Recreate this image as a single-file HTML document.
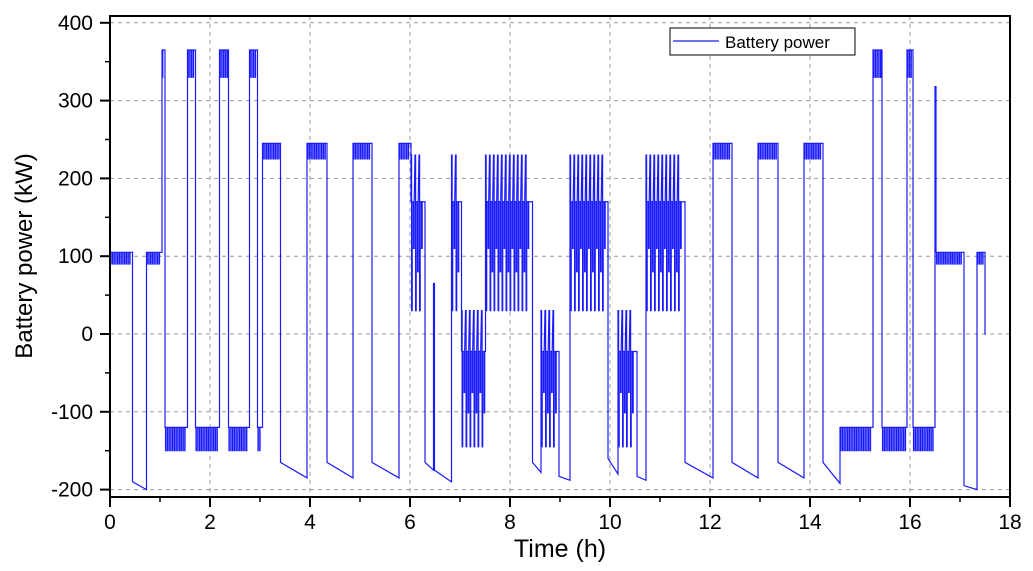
<!DOCTYPE html>
<html><head><meta charset="utf-8"><style>
body{margin:0;background:#fff;}
svg{display:block;font-family:"Liberation Sans",Arial,sans-serif;}
</style></head><body>
<svg id="chart" width="1033" height="571" viewBox="0 0 1033 571">
<g id="grid"></g>
<g id="axes"></g>
<path id="series" fill="none" stroke="#1a1aff" stroke-width="1.2" stroke-linejoin="miter"></path>
<rect x="110" y="16" width="900" height="481" fill="none" stroke="#000" stroke-width="2"/>
<text x="32" y="256" font-size="24" text-anchor="middle" transform="rotate(-90 32 256)">Battery power (kW)</text>
<text x="560" y="557" font-size="25" text-anchor="middle">Time (h)</text>
<g>
<rect x="670" y="28" width="185" height="27" fill="#fff" stroke="#000" stroke-width="1"/>
<line x1="673" y1="41" x2="719" y2="41" stroke="#1a1aff" stroke-width="1.2"/>
<text x="725" y="48" font-size="17">Battery power</text>
</g>
</svg>
<script>
const xTicks=[0,2,4,6,8,10,12,14,16,18];
const yTicks=[-200,-100,0,100,200,300,400];
const segStart=[0,0.45,0.73,1.04,1.1,1.55,1.71,2.19,2.37,2.79,2.95,3.05,3.41,3.94,4.34,4.86,5.24,5.78,6.02,6.3,6.47,6.49,6.83,7.03,7.51,8.45,8.62,8.98,9.2,9.96,10.16,10.54,10.72,11.5,12.06,12.44,12.96,13.36,13.88,14.26,14.6,15.26,15.44,15.94,16.06,16.5,16.52,17.08,17.34,17.5];
const segEnd=[0.45,0.73,1.04,1.1,1.55,1.71,2.19,2.37,2.79,2.95,3.05,3.41,3.94,4.34,4.86,5.24,5.78,6.02,6.3,6.47,6.49,6.83,7.03,7.51,8.45,8.62,8.98,9.2,9.96,10.16,10.54,10.72,11.5,12.06,12.44,12.96,13.36,13.88,14.26,14.6,15.26,15.44,15.94,16.06,16.5,16.52,17.08,17.34,17.5,17.52];
const segKind=["osc","ramp","osc","osc","osc","osc","osc","osc","osc","osc","osc","osc","ramp","osc","ramp","osc","ramp","osc","fast","ramp","osc","ramp","fast","fast","fast","ramp","fast","ramp","fast","ramp","fast","ramp","fast","ramp","osc","ramp","osc","ramp","osc","ramp","osc","osc","osc","osc","osc","osc","osc","ramp","osc","osc"];
const segHi=[105,-190,105,365,-120,365,-120,365,-120,365,-120,245,-165,245,-165,245,-165,245,230,-165,65,-175,230,30,230,-165,30,-183,230,-160,30,-183,230,-165,245,-165,245,-165,245,-165,-120,365,-120,365,-120,318,105,-195,105,0];
const segLo=[90,-200,90,330,-150,330,-150,330,-150,330,-150,225,-185,225,-185,225,-185,225,30,-175,65,-190,30,-145,30,-178,-145,-188,30,-180,-145,-188,30,-185,225,-185,225,-185,225,-192,-150,330,-150,330,-150,318,90,-200,90,0];

const X=t=>110+t*50;
const Y=p=>334-p*0.778;
const NS="http://www.w3.org/2000/svg";
const grid=document.getElementById('grid'), axes=document.getElementById('axes');
function mk(tag,attrs,parent){const e=document.createElementNS(NS,tag);for(const k in attrs)e.setAttribute(k,attrs[k]);parent.appendChild(e);return e;}
xTicks.forEach(t=>{
  if(t>0&&t<18){const g=mk('line',{x1:X(t),x2:X(t),y1:16,y2:497,stroke:'#999','stroke-dasharray':'4 4','stroke-width':1},grid);
  
  }
  const tk=mk('line',{x1:X(t),x2:X(t),y1:497,y2:507,stroke:'#000','stroke-width':2},axes);
  
  
  const lb=mk('text',{x:X(t),y:529,'font-size':21,'text-anchor':'middle'},axes);lb.textContent=t;
  
  
  if(t<18){const m=mk('line',{x1:X(t+1),x2:X(t+1),y1:497,y2:502,stroke:'#000','stroke-width':1.5},axes);
  
  }
});
yTicks.forEach(v=>{
  const g=mk('line',{x1:110,x2:1010,y1:Y(v),y2:Y(v),stroke:'#999','stroke-dasharray':'4 4','stroke-width':1},grid);
  
  
  const tk=mk('line',{x1:100,x2:110,y1:Y(v),y2:Y(v),stroke:'#000','stroke-width':2},axes);
  
  
  const lb=mk('text',{x:93,y:Y(v)+7,'font-size':21,'text-anchor':'end'},axes);lb.textContent=v;
  
  
  if(v<400){const m=mk('line',{x1:105,x2:110,y1:Y(v+50),y2:Y(v+50),stroke:'#000','stroke-width':1.5},axes);
  
  }
});
let d="M"+X(0)+","+Y(0);
function L(t,p){d+=" L"+X(t).toFixed(2)+","+Y(p).toFixed(2);}
for(let i=0;i<segStart.length;i++){
  const a=segStart[i],b=segEnd[i],hi=segHi[i],lo=segLo[i],k=segKind[i];
  if(k==="ramp"){L(a,hi);L(b,lo);}
  else if(k==="osc"){
    const p=0.035;let t=a;L(a,hi);
    while(t+p<b){L(t,hi);L(t+p*0.3,hi);L(t+p*0.3,lo);L(t+p*0.45,lo);L(t+p*0.45,hi);t+=p;}
    L(b,hi);
  } else {
    const p=0.08;let t=a;const mh=lo+(hi-lo)*0.7,ml=lo+(hi-lo)*0.25;
    L(a,mh);let n=0;
    while(t+p<=b+0.001){
      L(t,hi);L(t+p*0.15,hi);L(t+p*0.15,lo);L(t+p*0.3,lo);L(t+p*0.3,mh);
      L(t+p*0.65,mh);L(t+p*0.65,(n%2)?ml:lo+(hi-lo)*0.4);L(t+p*0.8,(n%2)?ml:lo+(hi-lo)*0.4);L(t+p*0.8,mh);
      t+=p;n++;}
    L(b,mh);
  }
}
document.getElementById('series').setAttribute('d',d);
</script>
</body></html>
